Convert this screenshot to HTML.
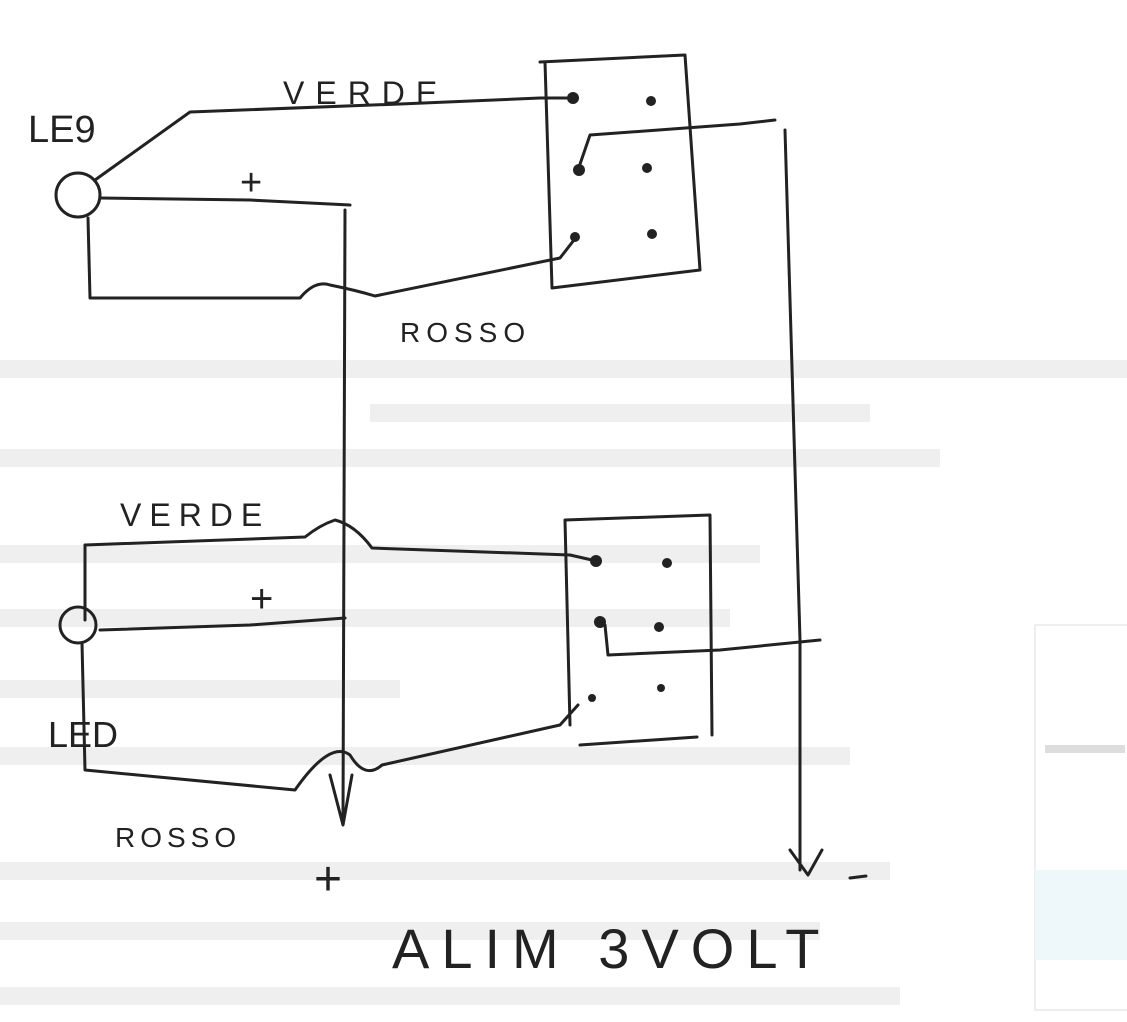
<!DOCTYPE html>
<html><head><meta charset="utf-8"><style>
html,body{margin:0;padding:0;background:#fff;}
svg{display:block}
.w{fill:none;stroke:#222;stroke-width:3;stroke-linecap:round;stroke-linejoin:round}
.t{font-family:"Liberation Sans",sans-serif;fill:#222;font-weight:normal}
.b{fill:#efefef}
</style></head><body>
<svg width="1127" height="1022" viewBox="0 0 1127 1022" xmlns="http://www.w3.org/2000/svg">
<g class="b">
<rect x="0" y="360" width="1127" height="18"/>
<rect x="370" y="404" width="500" height="18"/>
<rect x="0" y="449" width="940" height="18"/>
<rect x="0" y="545" width="760" height="18"/>
<rect x="0" y="609" width="730" height="18"/>
<rect x="0" y="680" width="400" height="18"/>
<rect x="0" y="747" width="850" height="18"/>
<rect x="0" y="862" width="890" height="18"/>
<rect x="0" y="922" width="820" height="18"/>
<rect x="0" y="987" width="900" height="18"/>
</g>
<rect x="1035" y="625" width="95" height="385" fill="none" stroke="#eee" stroke-width="2"/>
<rect x="1035" y="870" width="92" height="90" fill="#eef7fa"/>
<rect x="1045" y="745" width="80" height="8" fill="#ddd"/>

<text class="t" x="28" y="142" font-size="38">LE9</text>
<text class="t" x="283" y="104" font-size="32" letter-spacing="11">VERDE</text>
<text class="t" x="240" y="195" font-size="38">+</text>
<text class="t" x="400" y="342" font-size="28" letter-spacing="6">ROSSO</text>
<circle cx="78" cy="195" r="22" class="w"/>
<path class="w" d="M540 62 L685 55 L700 270 M545 62 L552 288 L700 270"/>
<path class="w" d="M95 180 L190 112 L400 104 L540 98 L572 98"/>
<path class="w" d="M100 198 L250 200 L350 205"/>
<path class="w" d="M345 210 L343 820"/>
<path class="w" d="M88 218 L90 298 L300 298 Q315 280 330 285 Q355 290 375 296 L560 258 L574 240"/>
<path class="w" d="M578 170 L590 135 L740 124 L775 120"/>
<path class="w" d="M785 130 L800 640 L800 870"/>
<path class="w" d="M790 850 L808 875 L822 850"/>
<path class="w" d="M850 878 L866 876"/>
<g fill="#222">
<circle cx="573" cy="98" r="6"/><circle cx="651" cy="101" r="5"/>
<circle cx="579" cy="170" r="6"/><circle cx="647" cy="168" r="5"/>
<circle cx="575" cy="237" r="5"/><circle cx="652" cy="234" r="5"/>
</g>

<text class="t" x="120" y="526" font-size="32" letter-spacing="8">VERDE</text>
<text class="t" x="250" y="612" font-size="40">+</text>
<text class="t" x="48" y="747" font-size="36">LED</text>
<text class="t" x="115" y="847" font-size="28" letter-spacing="5">ROSSO</text>
<text class="t" x="314" y="895" font-size="48">+</text>
<text class="t" x="392" y="968" font-size="56" letter-spacing="12">ALIM 3VOLT</text>
<circle cx="78" cy="625" r="18" class="w"/>
<path class="w" d="M565 520 L710 515 L712 735 M565 520 L570 725"/>
<path class="w" d="M580 745 L697 737"/>
<path class="w" d="M85 545 L305 537 Q320 525 335 520 Q355 525 372 548 L570 555 L592 560"/>
<path class="w" d="M100 630 L250 625 L345 618"/>
<path class="w" d="M85 545 L85 620 M82 643 L85 770 L295 790 Q330 740 350 755 Q365 780 382 765 L560 725 L578 705"/>
<path class="w" d="M330 775 L343 825 L352 775"/>
<path class="w" d="M605 625 L608 655 L720 650 L820 640"/>
<g fill="#222">
<circle cx="596" cy="561" r="6"/><circle cx="667" cy="563" r="5"/>
<circle cx="600" cy="622" r="6"/><circle cx="659" cy="627" r="5"/>
<circle cx="592" cy="698" r="4"/><circle cx="661" cy="688" r="4"/>
</g>
</svg>
</body></html>
